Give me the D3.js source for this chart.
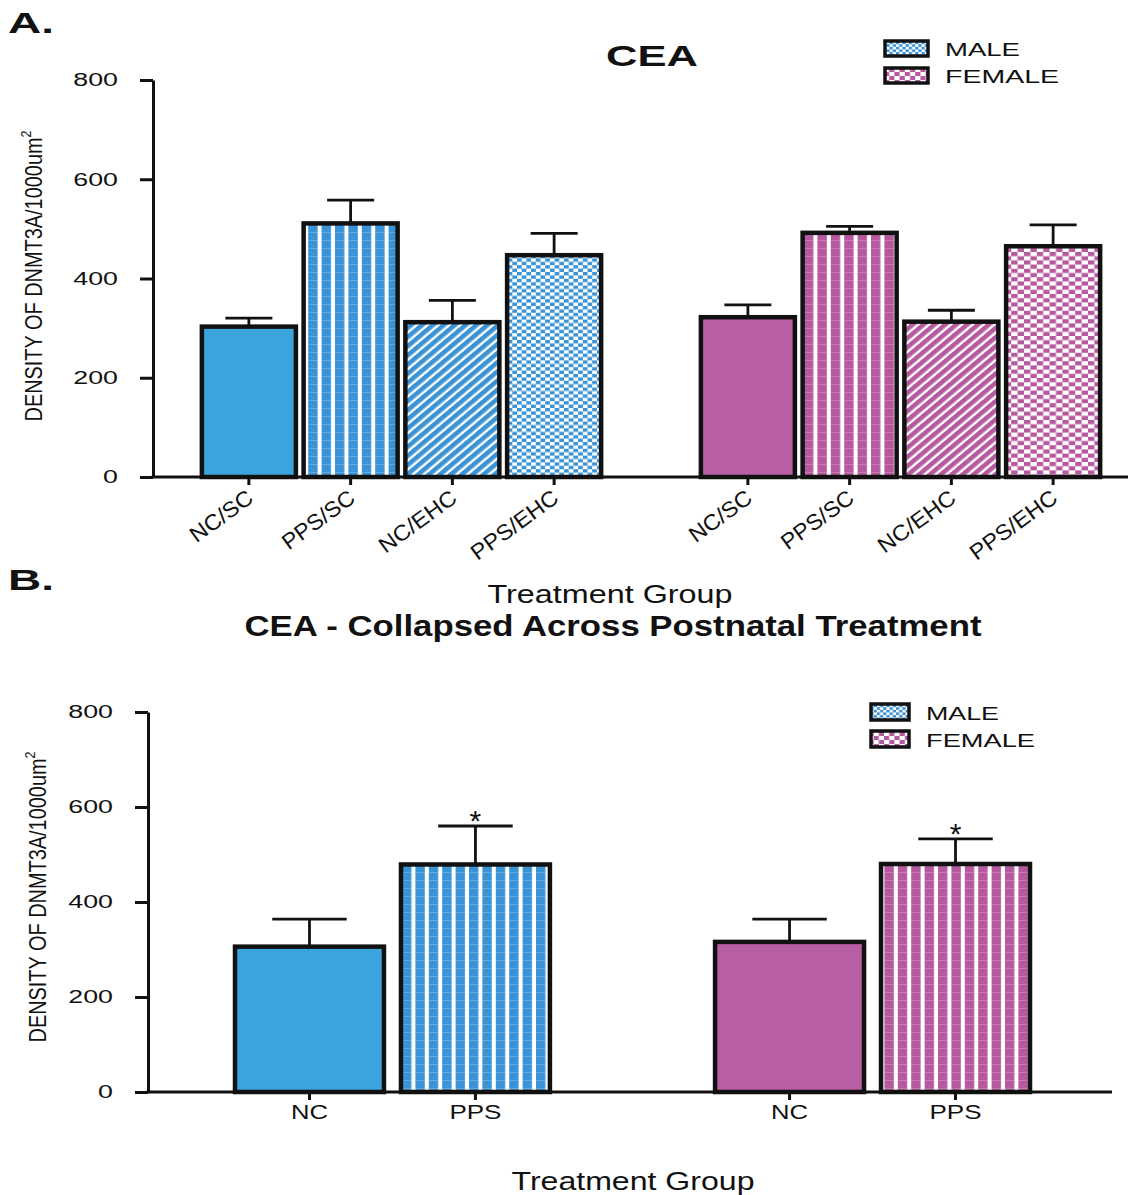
<!DOCTYPE html>
<html>
<head>
<meta charset="utf-8">
<script src="https://cdn.jsdelivr.net/npm/d3@7/dist/d3.min.js"></script>
<style>
  html, body { margin: 0; padding: 0; background: #fff; }
  svg { display: block; font-family: "Liberation Sans", Arial, sans-serif; }
</style>
</head>
<body>
<svg id="chart" width="1146" height="1195"></svg>
<script>
// ---- data ----
const sexes = ["MALE", "FEMALE"];
const treatmentsA = ["NC/SC", "PPS/SC", "NC/EHC", "PPS/EHC"];
const maleMeansA = [303, 511, 312, 447];
const maleSemA = [17, 47, 44, 44];
const femaleMeansA = [322, 492, 313, 465];
const femaleSemA = [25, 13, 23, 43];

const treatmentsB = ["NC", "PPS"];
const maleMeansB = [306, 479];
const maleSemB = [58, 81];
const femaleMeansB = [316, 480];
const femaleSemB = [48, 53];
const significantB = [false, true];

const yTicks = [0, 200, 400, 600, 800];
const yLabel = "DENSITY OF DNMT3A/1000um";
const xTitle = "Treatment Group";

// ---- styling ----
const sexColor = { MALE: "#3aa5dd", FEMALE: "#b95ea5" };
const patColor = { MALE: "#3a93d6", FEMALE: "#b7599f" };
const fillKindA = ["solid", "vstripe", "diag", "check"];
const fillKindB = ["solid", "vstripe"];

const svg = d3.select("#chart");
const defs = svg.append("defs");

// hatch patterns for each sex
sexes.forEach(s => {
  const c = patColor[s];
  // vertical stripes with faint horizontal grain
  const v = defs.append("pattern").attr("id", `vstripe-${s}`)
    .attr("patternUnits", "userSpaceOnUse").attr("width", 13.4).attr("height", 8);
  v.append("rect").attr("width", 13.4).attr("height", 8).attr("fill", c);
  v.append("rect").attr("x", 9.4).attr("width", 4).attr("height", 8).attr("fill", "#fff");
  v.append("rect").attr("y", 0).attr("width", 13.4).attr("height", 0.8).attr("fill", "#fff").attr("opacity", 0.25);

  // diagonal stripes
  const d = defs.append("pattern").attr("id", `diag-${s}`)
    .attr("patternUnits", "userSpaceOnUse").attr("width", 7).attr("height", 10)
    .attr("patternTransform", "rotate(50)");
  d.append("rect").attr("width", 7).attr("height", 10).attr("fill", c);
  d.append("rect").attr("x", 4.6).attr("width", 2.4).attr("height", 10).attr("fill", "#fff");

  // checkerboard
  const a = s === "MALE" ? 4.7 : 6.4, b = s === "MALE" ? 3.4 : 4.2;
  const k = defs.append("pattern").attr("id", `check-${s}`)
    .attr("patternUnits", "userSpaceOnUse").attr("width", 2 * a).attr("height", 2 * b);
  k.append("rect").attr("width", 2 * a).attr("height", 2 * b).attr("fill", "#fff");
  k.append("rect").attr("width", a).attr("height", b).attr("fill", c);
  k.append("rect").attr("x", a).attr("y", b).attr("width", a).attr("height", b).attr("fill", c);

  // smaller checker for legend swatch
  const la = s === "MALE" ? 3.2 : 5.2, lb = s === "MALE" ? 2.6 : 4;
  const lk = defs.append("pattern").attr("id", `lcheck-${s}`)
    .attr("patternUnits", "userSpaceOnUse").attr("width", 2 * la).attr("height", 2 * lb);
  lk.append("rect").attr("width", 2 * la).attr("height", 2 * lb).attr("fill", "#fff");
  lk.append("rect").attr("width", la).attr("height", lb).attr("fill", c);
  lk.append("rect").attr("x", la).attr("y", lb).attr("width", la).attr("height", lb).attr("fill", c);
});

function fillFor(kind, sex) {
  return kind === "solid" ? sexColor[sex] : `url(#${kind}-${sex})`;
}

// text helper: fixed rendered width to keep the wide/narrow lettering
function label(g, str, x, y, size, opts = {}) {
  const t = g.append("text").attr("x", x).attr("y", y)
    .attr("font-size", size)
    .attr("font-weight", opts.bold ? "bold" : "normal")
    .attr("text-anchor", opts.anchor || "start")
    .attr("fill", "#111")
    .text(str);
  if (opts.width) t.attr("textLength", opts.width).attr("lengthAdjust", "spacingAndGlyphs");
  if (opts.transform) t.attr("transform", opts.transform);
  return t;
}

function drawPanel(cfg) {
  const g = svg.append("g");
  const y = d3.scaleLinear().domain([0, 800]).range([cfg.y0, cfg.y1]);
  const xOuter = d3.scaleBand().domain(sexes).range(cfg.outerRange)
    .paddingInner(cfg.outerPad).paddingOuter(cfg.outerPadOuter);
  const xInner = d3.scaleBand().domain(cfg.treatments).range([0, xOuter.bandwidth()])
    .paddingInner(cfg.innerPad).paddingOuter(cfg.innerPadOuter);

  const rows = [];
  sexes.forEach(s => {
    const means = s === "MALE" ? cfg.maleMeans : cfg.femaleMeans;
    const sems = s === "MALE" ? cfg.maleSem : cfg.femaleSem;
    cfg.treatments.forEach((t, i) => {
      rows.push({ sex: s, t, i, mean: means[i], sem: sems[i],
        x: xOuter(s) + xInner(t), w: xInner.bandwidth() });
    });
  });

  // error bars (drawn before bars so the stem starts under the bar outline)
  const eb = g.append("g").attr("stroke", "#111").attr("stroke-width", 2.8);
  eb.selectAll("line.stem").data(rows).join("line")
    .attr("x1", d => d.x + d.w / 2).attr("x2", d => d.x + d.w / 2)
    .attr("y1", d => y(d.mean)).attr("y2", d => y(d.mean + d.sem));
  eb.selectAll("line.cap").data(rows).join("line")
    .attr("x1", d => d.x + d.w / 4).attr("x2", d => d.x + 3 * d.w / 4)
    .attr("y1", d => y(d.mean + d.sem)).attr("y2", d => y(d.mean + d.sem));

  // bars
  g.append("g").selectAll("rect").data(rows).join("rect")
    .attr("x", d => d.x).attr("width", d => d.w)
    .attr("y", d => y(d.mean)).attr("height", d => y(0) - y(d.mean))
    .attr("fill", d => fillFor(cfg.kinds[d.i], d.sex))
    .attr("stroke", "#111").attr("stroke-width", 4.5);

  // significance marks
  if (cfg.sig) {
    g.append("g").selectAll("text").data(rows.filter(d => cfg.sig[d.i])).join("text")
      .attr("x", d => d.x + d.w / 2).attr("y", d => y(d.mean + d.sem) + 5)
      .attr("text-anchor", "middle").attr("font-size", 30).attr("fill", "#111")
      .text("*");
  }

  // y axis
  const ax = g.append("g").attr("transform", `translate(${cfg.axisX},0)`)
    .call(d3.axisLeft(y).tickValues(yTicks).tickSize(13).tickSizeOuter(0).tickPadding(22));
  ax.select(".domain").attr("stroke", "#111").attr("stroke-width", 3);
  ax.selectAll(".tick line").attr("stroke", "#111").attr("stroke-width", 3);
  ax.selectAll(".tick text")
    .attr("font-size", 18).attr("fill", "#111")
    .attr("font-family", "Liberation Sans, Arial, sans-serif")
    .attr("textLength", d => String(d).length * 14.9)
    .attr("lengthAdjust", "spacingAndGlyphs");

  // x axis line and ticks
  g.append("line").attr("x1", cfg.axisX - 1.5).attr("x2", cfg.xEnd)
    .attr("y1", y(0)).attr("y2", y(0)).attr("stroke", "#111").attr("stroke-width", 3);
  g.append("g").selectAll("line").data(rows).join("line")
    .attr("x1", d => d.x + d.w / 2).attr("x2", d => d.x + d.w / 2)
    .attr("y1", y(0)).attr("y2", y(0) + 8)
    .attr("stroke", "#111").attr("stroke-width", 3);

  // category labels
  const lab = g.append("g");
  rows.forEach(d => {
    const cx = d.x + d.w / 2;
    if (cfg.rotate) {
      const ax0 = cx + 6, ay0 = y(0) + 24;
      label(lab, d.t, ax0, ay0, 22, {
        anchor: "end", width: cfg.rotLen[d.i],
        transform: `rotate(-36 ${ax0} ${ay0})`
      });
    } else {
      label(lab, d.t, cx, y(0) + 27, 21, { anchor: "middle", width: cfg.xLabLen[d.i] });
    }
  });

  // y axis title
  const yl = g.append("text")
    .attr("transform", `translate(${cfg.yLabX},${cfg.yLabY}) rotate(-90)`)
    .attr("text-anchor", "middle").attr("font-size", 24).attr("fill", "#111")
    .attr("textLength", 291).attr("lengthAdjust", "spacingAndGlyphs");
  yl.append("tspan").text(yLabel);
  yl.append("tspan").attr("font-size", 15).attr("dy", -11).text("2");

  // x axis title
  label(g, xTitle, cfg.xTitleX, cfg.xTitleY, 25, { anchor: "middle", width: cfg.xTitleW });

  // legend
  const lg = g.append("g");
  sexes.forEach((s, i) => {
    const ly = cfg.legY + i * cfg.legGap;
    lg.append("rect").attr("x", cfg.legX).attr("y", ly)
      .attr("width", cfg.legW).attr("height", cfg.legH)
      .attr("fill", `url(#lcheck-${s})`).attr("stroke", "#111").attr("stroke-width", 3.5);
    label(lg, s, cfg.legTextX, ly + cfg.legH - 0.5, 19, { width: s === "MALE" ? cfg.legMaleW : cfg.legFemaleW });
  });
}

// panel A: all four postnatal treatments
drawPanel({
  treatments: treatmentsA, kinds: fillKindA,
  maleMeans: maleMeansA, maleSem: maleSemA, femaleMeans: femaleMeansA, femaleSem: femaleSemA,
  y0: 477, y1: 80, axisX: 153, xEnd: 1128,
  outerRange: [198, 1104], outerPad: 0.1844, outerPadOuter: 0,
  innerPad: 0.076, innerPadOuter: 0.038,
  rotate: true, rotLen: [72, 84, 90, 102],
  yLabX: 42, yLabY: 276,
  xTitleX: 610, xTitleY: 603, xTitleW: 245,
  legX: 885, legY: 41, legGap: 27, legW: 43, legH: 15, legTextX: 945,
  legMaleW: 75, legFemaleW: 114
});

// panel B: collapsed across postnatal treatment
drawPanel({
  treatments: treatmentsB, kinds: fillKindB, sig: significantB,
  maleMeans: maleMeansB, maleSem: maleSemB, femaleMeans: femaleMeansB, femaleSem: femaleSemB,
  y0: 1092, y1: 712, axisX: 148, xEnd: 1112,
  outerRange: [235, 1030], outerPad: 0.344, outerPadOuter: 0,
  innerPad: 0.1024, innerPadOuter: 0,
  rotate: false, xLabLen: [37, 52],
  yLabX: 46, yLabY: 897,
  xTitleX: 633, xTitleY: 1190, xTitleW: 243,
  legX: 871, legY: 704, legGap: 27, legW: 38, legH: 16, legTextX: 926,
  legMaleW: 73, legFemaleW: 109
});

// panel letters and titles
label(svg, "A.", 8, 33, 30, { bold: true, width: 46 });
label(svg, "CEA", 652, 66, 30, { bold: true, anchor: "middle", width: 92 });
label(svg, "B.", 8, 590, 30, { bold: true, width: 46 });
label(svg, "CEA - Collapsed Across Postnatal Treatment", 613, 636, 29, { bold: true, anchor: "middle", width: 737 });
</script>
</body>
</html>
